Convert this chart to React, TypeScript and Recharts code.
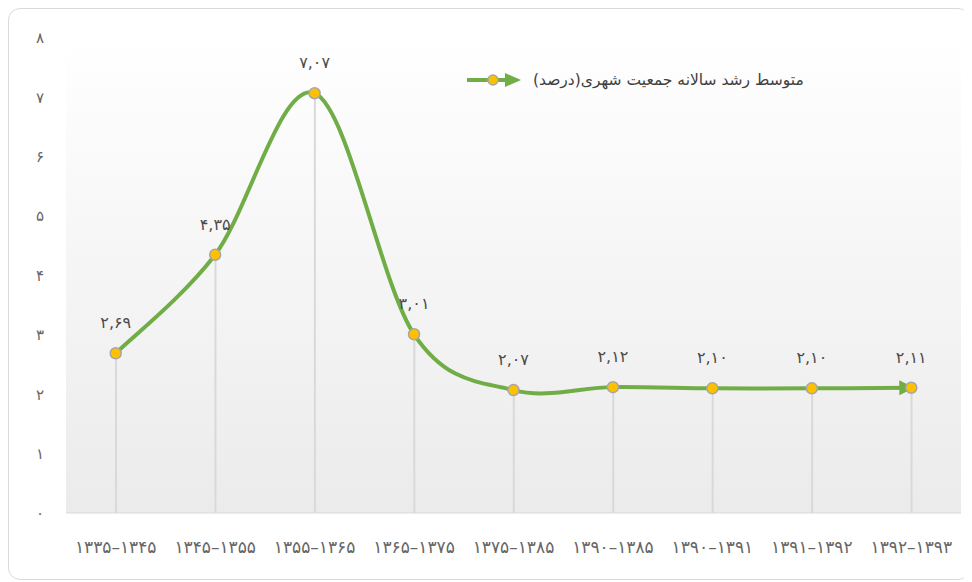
import { ComposedChart, Line, Bar, XAxis, YAxis, CartesianGrid, Legend, LabelList } from "recharts";

// دوره‌ها و نرخ رشد
const periods = [
  "۱۳۳۵–۱۳۴۵", "۱۳۴۵–۱۳۵۵", "۱۳۵۵–۱۳۶۵", "۱۳۶۵–۱۳۷۵", "۱۳۷۵–۱۳۸۵",
  "۱۳۹۰–۱۳۸۵", "۱۳۹۰–۱۳۹۱", "۱۳۹۱–۱۳۹۲", "۱۳۹۲–۱۳۹۳",
];
const growth = [2.69, 4.35, 7.07, 3.01, 2.07, 2.12, 2.10, 2.10, 2.11];
const growthLabels = ["۲,۶۹", "۴,۳۵", "۷,۰۷", "۳,۰۱", "۲,۰۷", "۲,۱۲", "۲,۱۰", "۲,۱۰", "۲,۱۱"];
const yTicks = [0, 1, 2, 3, 4, 5, 6, 7, 8];
const yTickLabels = ["۰", "۱", "۲", "۳", "۴", "۵", "۶", "۷", "۸"];
const seriesName = "متوسط رشد سالانه جمعیت شهری(درصد)";

const data = periods.map((p, i) => ({ period: p, value: growth[i], label: growthLabels[i] }));

const FONT = "'DejaVu Sans', sans-serif";
const GREEN = "#70ad47";

// excel-like smoothed line (catmull-rom as bezier)
function smoothCurve(ctx: any) {
  let pts: number[][] = [];
  return {
    areaStart() {},
    areaEnd() {},
    lineStart() { pts = []; },
    point(x: number, y: number) { pts.push([+x, +y]); },
    lineEnd() {
      if (!pts.length) return;
      ctx.moveTo(pts[0][0], pts[0][1]);
      for (let i = 0; i < pts.length - 1; i++) {
        const p0 = pts[i - 1] || pts[i];
        const p1 = pts[i];
        const p2 = pts[i + 1];
        const p3 = pts[i + 2] || p2;
        ctx.bezierCurveTo(
          p1[0] + (p2[0] - p0[0]) / 6, p1[1] + (p2[1] - p0[1]) / 6,
          p2[0] - (p3[0] - p1[0]) / 6, p2[1] - (p3[1] - p1[1]) / 6,
          p2[0], p2[1]
        );
      }
    },
  };
}

const renderLegend = () => (
  <div style={{ display: "flex", alignItems: "center", fontFamily: FONT, fontSize: 15.5, color: "#404040" }}>
    <svg width={58} height={14}>
      <line x1={2} y1={7} x2={44} y2={7} stroke={GREEN} strokeWidth={4} />
      <polygon points="40,0 56,7 40,14" fill={GREEN} />
      <circle cx={28} cy={7} r={5} fill="#ffc000" stroke="#a6a6a6" strokeWidth={1.5} />
    </svg>
    <span style={{ direction: "rtl", marginLeft: 10 }}>{seriesName}</span>
  </div>
);

export default function App() {
  return (
    <div style={{ width: 962, height: 572, border: "1px solid #d9d9d9", borderRadius: 12, boxSizing: "border-box", background: "#fff" }}>
      <svg width={0} height={0} style={{ position: "absolute" }}>
        <defs>
          <linearGradient id="plotBg" x1="0" y1="0" x2="0" y2="1">
            <stop offset="0%" stopColor="#ffffff" />
            <stop offset="100%" stopColor="#ebebeb" />
          </linearGradient>
          <marker id="arrowEnd" viewBox="0 0 10 10" refX={8} refY={5} markerUnits="userSpaceOnUse" markerWidth={16} markerHeight={15} orient="auto">
            <path d="M0,0 L10,5 L0,10 z" fill={GREEN} />
          </marker>
        </defs>
      </svg>
      <ComposedChart width={960} height={570} data={data} margin={{ top: 29, right: 8, bottom: 26, left: 17 }}>
        <CartesianGrid horizontal={false} vertical={false} fill="url(#plotBg)" />
        <XAxis
          dataKey="period"
          axisLine={{ stroke: "#d9d9d9" }}
          tickLine={false}
          height={40}
          tickMargin={22}
          tick={{ fontFamily: FONT, fontSize: 17, fill: "#666666", letterSpacing: 1.3 }}
          interval={0}
        />
        <YAxis
          domain={[0, 8]}
          ticks={yTicks}
          tickFormatter={(v: number) => yTickLabels[v]}
          axisLine={false}
          tickLine={false}
          width={40}
          tickMargin={16}
          tick={{ fontFamily: FONT, fontSize: 15, fill: "#666666" }}
        />
        <Legend verticalAlign="middle" align="center" content={renderLegend} wrapperStyle={{ top: 62, left: 456, width: "auto" }} />
        <Bar dataKey="value" barSize={2} fill="#d9d9d9" isAnimationActive={false} legendType="none" />
        <Line
          dataKey="value"
          name={seriesName}
          type={smoothCurve as any}
          stroke={GREEN}
          strokeWidth={4}
          markerEnd="url(#arrowEnd)"
          dot={{ r: 5.5, fill: "#ffc000", stroke: "#a6a6a6", strokeWidth: 1.5 }}
          activeDot={false}
          isAnimationActive={false}
        >
          <LabelList dataKey="label" position="top" offset={25} style={{ fontFamily: FONT, fontSize: 16, fill: "#4a4a4a" }} />
        </Line>
      </ComposedChart>
    </div>
  );
}
